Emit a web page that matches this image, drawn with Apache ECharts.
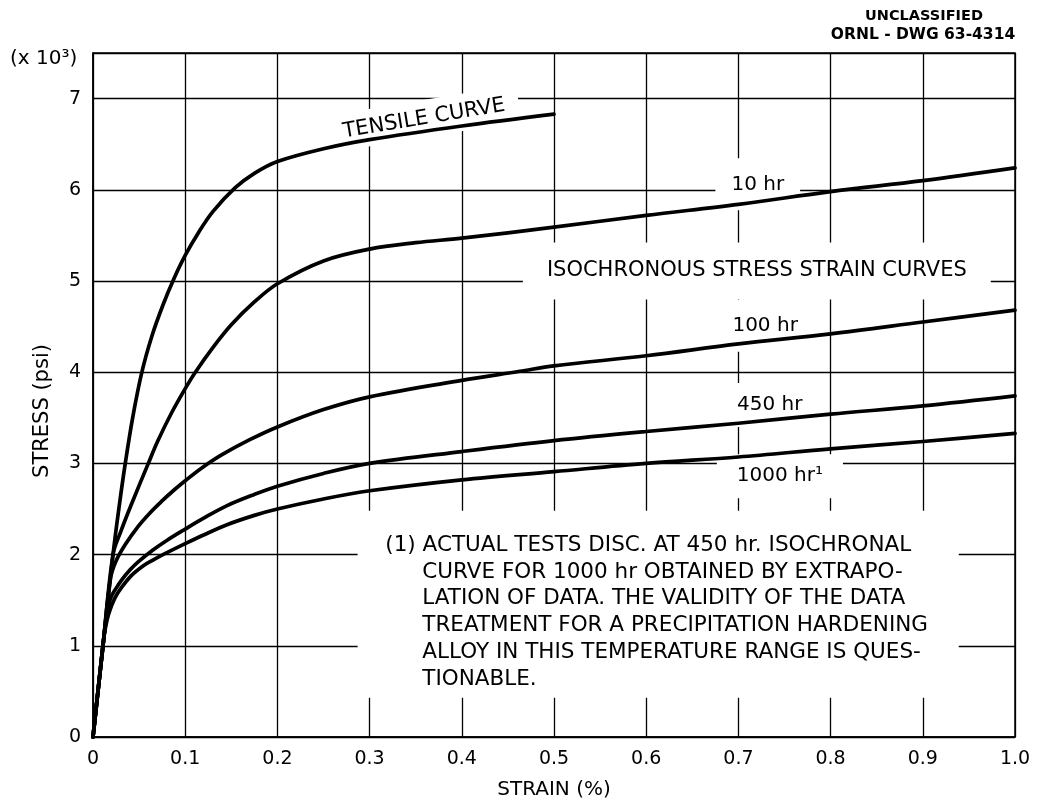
<!DOCTYPE html>
<html>
<head>
<meta charset="utf-8">
<script src="https://cdn.jsdelivr.net/npm/echarts@6/dist/echarts.min.js"></script>
<style>
  html, body { margin: 0; padding: 0; background: #fff; }
  #chart { width: 1045px; height: 802px; }
</style>
</head>
<body>
<div id="chart"></div>
<script>
// ---------- DATA (strain %, stress x10^3 psi) ----------
const tensileCurve = [[0,0],[0.0108,1.0],[0.0217,2.0],[0.028,2.5],[0.035,3.0],[0.043,3.5],[0.053,4.0],[0.064,4.4],[0.076,4.74],[0.088,5.03],[0.1,5.28],[0.115,5.54],[0.13,5.76],[0.154,6.02],[0.175,6.18],[0.2,6.31],[0.25,6.45],[0.3,6.55],[0.4,6.70],[0.5,6.83]];
const curve10hr = [[0,0],[0.0108,1.0],[0.0217,2.0],[0.03,2.25],[0.0416,2.55],[0.06,3.0],[0.07,3.24],[0.085,3.55],[0.1,3.82],[0.111,4.0],[0.13,4.27],[0.15,4.52],[0.175,4.77],[0.2,4.97],[0.25,5.22],[0.3,5.35],[0.35,5.42],[0.4,5.47],[0.5,5.59],[0.6,5.72],[0.7,5.84],[0.8,5.98],[0.9,6.1],[1.0,6.24]];
const curve100hr = [[0,0],[0.0108,1.0],[0.019,1.74],[0.025,1.93],[0.035,2.11],[0.049,2.31],[0.062,2.46],[0.074,2.58],[0.087,2.70],[0.1,2.81],[0.118,2.95],[0.139,3.09],[0.17,3.26],[0.2,3.40],[0.25,3.59],[0.3,3.73],[0.4,3.91],[0.463,4.01],[0.5,4.07],[0.6,4.18],[0.7,4.31],[0.8,4.42],[0.9,4.55],[1.0,4.68]];
const curve450hr = [[0,0],[0.0108,1.0],[0.0145,1.3],[0.019,1.52],[0.025,1.63],[0.031,1.72],[0.04,1.83],[0.049,1.92],[0.065,2.05],[0.08,2.155],[0.1,2.28],[0.12,2.40],[0.146,2.54],[0.175,2.66],[0.2,2.75],[0.25,2.89],[0.3,3.0],[0.4,3.13],[0.5,3.25],[0.6,3.35],[0.7,3.44],[0.8,3.54],[0.9,3.63],[1.0,3.74]];
const curve1000hr = [[0,0],[0.0108,1.0],[0.013,1.17],[0.017,1.35],[0.0235,1.52],[0.031,1.64],[0.0416,1.77],[0.055,1.88],[0.065,1.94],[0.078,2.01],[0.1,2.12],[0.12,2.215],[0.146,2.33],[0.175,2.43],[0.2,2.5],[0.25,2.61],[0.3,2.7],[0.4,2.82],[0.5,2.91],[0.6,3.0],[0.7,3.07],[0.8,3.16],[0.9,3.24],[1.0,3.33]];

// curve labels: text and anchor (data coords)
const labelTexts = ['TENSILE CURVE', '10 hr', 'ISOCHRONOUS STRESS STRAIN CURVES', '100 hr', '450 hr', '1000 hr\u00B9'];
const labelAnchors = [[0.359,6.78],[0.721,6.06],[0.72,5.11],[0.729,4.51],[0.734,3.64],[0.745,2.86]];

const footnoteLines = [
  '(1) ACTUAL TESTS DISC. AT 450 hr. ISOCHRONAL',
  'CURVE FOR 1000 hr OBTAINED BY EXTRAPO-',
  'LATION OF DATA. THE VALIDITY OF THE DATA',
  'TREATMENT FOR A PRECIPITATION HARDENING',
  'ALLOY IN THIS TEMPERATURE RANGE IS QUES-',
  'TIONABLE.'
];
const footnoteBox = [[0.287,2.48],[0.939,0.43]];
const footnoteAnchor = [0.317,2.10];

const xTicks = ['0','0.1','0.2','0.3','0.4','0.5','0.6','0.7','0.8','0.9','1.0'];
const yTicks = ['0','1','2','3','4','5','6','7'];

// ---------- STYLE ----------
const FONT = '"DejaVu Sans", "Liberation Sans", sans-serif';
const labelRot = [9.4, 0, 0, 0, 0, 0];
const labelSize = [21, 20, 21, 20, 20, 20];
const labelPad = [[8,14],[16,16],[18,24],[16,14],[12,14],[12,20]];

const chart = echarts.init(document.getElementById('chart'), null, { renderer: 'canvas' });

function lineSeries(name, data) {
  return {
    name, type: 'line', data, z: 3,
    showSymbol: false, symbol: 'none',
    smooth: 0.35,
    lineStyle: { color: '#000', width: 3.7, cap: 'round', join: 'round' },
    animation: false, silent: true
  };
}

const option = {
  backgroundColor: '#fff',
  animation: false,
  grid: { left: 93, right: 30, top: 53, bottom: 65, outerBoundsMode: 'none', containLabel: false,
          show: true, borderColor: '#000', borderWidth: 1.5, backgroundColor: 'transparent' },
  xAxis: {
    type: 'value', min: 0, max: 1, interval: 0.1,
    axisLine: { show: true, lineStyle: { color: '#000', width: 1.5 } },
    axisTick: { show: false },
    splitLine: { show: true, lineStyle: { color: '#000', width: 1.3 } },
    axisLabel: {
      color: '#000', fontSize: 19, fontFamily: FONT, margin: 13,
      formatter: v => xTicks[Math.round(v * 10)] || ''
    },
    name: 'STRAIN (%)', nameLocation: 'middle', nameGap: 43,
    nameTextStyle: { color: '#000', fontSize: 20, fontFamily: FONT }
  },
  yAxis: {
    type: 'value', min: 0, max: 7.5, interval: 1,
    axisLine: { show: true, lineStyle: { color: '#000', width: 1.5 } },
    axisTick: { show: false },
    splitLine: { show: true, lineStyle: { color: '#000', width: 1.3 } },
    axisLabel: {
      color: '#000', fontSize: 19, fontFamily: FONT, margin: 12,
      formatter: v => Number.isInteger(v) ? (yTicks[v] || '') : ''
    },
    name: 'STRESS (psi)', nameLocation: 'middle', nameGap: 40, nameRotate: 90,
    nameTextStyle: { color: '#000', fontSize: 21, fontFamily: FONT, padding: [0, 32, 0, 0] }
  },
  graphic: [
    { type: 'text', left: 10, top: 49, style: { text: '(x 10\u00B3)', font: '20px ' + FONT, fill: '#000' } },
    { type: 'text', x: 924, y: 9, style: { text: 'UNCLASSIFIED', font: 'bold 14.5px ' + FONT, fill: '#000', align: 'center' } },
    { type: 'text', x: 923, y: 27, style: { text: 'ORNL - DWG 63-4314', font: 'bold 15.5px ' + FONT, fill: '#000', align: 'center' } }
  ],
  series: [
    // white label boxes + texts (above grid lines, under curves)
    {
      type: 'custom', z: 1, silent: true, animation: false, clip: false,
      data: labelAnchors,
      renderItem: function (params, api) {
        const i = params.dataIndex;
        const p = api.coord([api.value(0), api.value(1)]);
        return {
          type: 'text', x: p[0], y: p[1],
          rotation: labelRot[i] * Math.PI / 180,
          style: {
            text: labelTexts[i], font: labelSize[i] + 'px ' + FONT, fill: '#000',
            align: 'center', verticalAlign: 'middle',
            backgroundColor: '#fff', padding: labelPad[i]
          }
        };
      }
    },
    {
      type: 'custom', z: 1, silent: true, animation: false, clip: false,
      data: [footnoteAnchor],
      renderItem: function (params, api) {
        const a = api.coord(footnoteBox[0]);
        const b = api.coord(footnoteBox[1]);
        const t = api.coord([api.value(0), api.value(1)]);
        const firstIndent = t[0];
        const indent = firstIndent + 37;
        const children = [{
          type: 'rect', shape: { x: a[0], y: a[1], width: b[0] - a[0], height: b[1] - a[1] },
          style: { fill: '#fff' }
        }];
        footnoteLines.forEach((ln, k) => {
          children.push({
            type: 'text', x: k === 0 ? firstIndent : indent, y: t[1] + k * 26.7,
            style: { text: ln, font: '21.5px ' + FONT, fill: '#000', align: 'left', verticalAlign: 'middle' }
          });
        });
        return { type: 'group', children };
      }
    },
    lineSeries('Tensile curve', tensileCurve),
    lineSeries('10 hr', curve10hr),
    lineSeries('100 hr', curve100hr),
    lineSeries('450 hr', curve450hr),
    lineSeries('1000 hr', curve1000hr)
  ]
};
chart.setOption(option);
</script>
</body>
</html>
